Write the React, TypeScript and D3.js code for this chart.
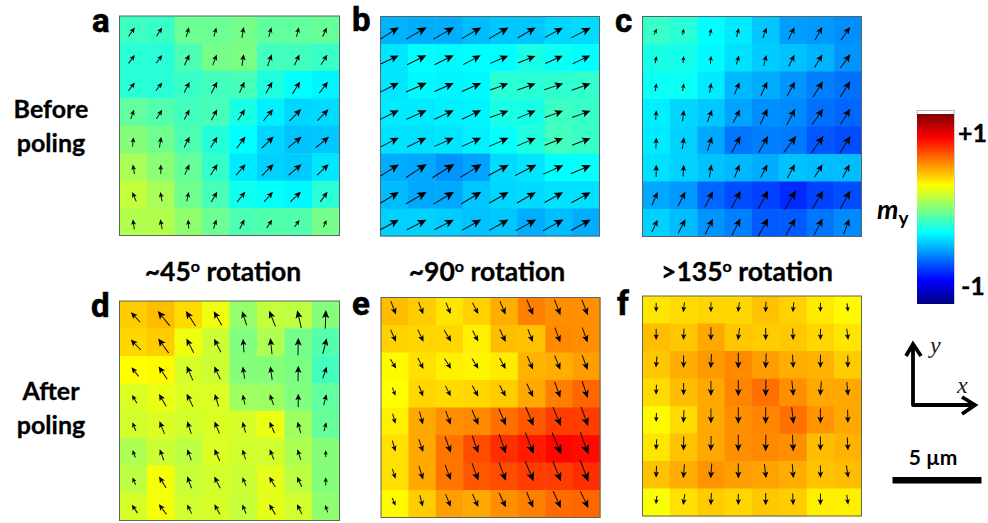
import React from 'react';
import * as d3 from 'd3';

// my value of each cell (drives the colour), rows top to bottom
const valuesA = [
  [-0.13, -0.14, -0.04, -0.04, -0.02, -0.06, -0.06, -0.05],
  [-0.17, -0.17, -0.1, -0.02, -0.01, -0.12, -0.12, -0.14],
  [-0.17, -0.17, -0.14, -0.12, -0.11, -0.19, -0.25, -0.27],
  [-0.06, -0.09, -0.12, -0.11, -0.2, -0.28, -0.33, -0.32],
  [0.01, -0.03, -0.1, -0.18, -0.25, -0.33, -0.37, -0.36],
  [0.08, 0.02, -0.05, -0.15, -0.29, -0.34, -0.35, -0.3],
  [0.13, 0.08, -0.03, -0.11, -0.22, -0.24, -0.26, -0.17],
  [0.1, 0.1, 0.03, -0.04, -0.1, -0.09, -0.09, -0.02],
];
const valuesB = [
  [-0.4, -0.41, -0.41, -0.38, -0.36, -0.36, -0.33, -0.32],
  [-0.3, -0.25, -0.26, -0.25, -0.25, -0.2, -0.23, -0.25],
  [-0.3, -0.26, -0.27, -0.26, -0.17, -0.17, -0.16, -0.15],
  [-0.29, -0.29, -0.28, -0.27, -0.2, -0.2, -0.13, -0.14],
  [-0.31, -0.31, -0.3, -0.28, -0.24, -0.19, -0.12, -0.14],
  [-0.41, -0.42, -0.46, -0.43, -0.32, -0.3, -0.25, -0.24],
  [-0.38, -0.42, -0.42, -0.36, -0.33, -0.32, -0.31, -0.31],
  [-0.34, -0.34, -0.35, -0.37, -0.36, -0.41, -0.38, -0.41],
];
const valuesC = [
  [-0.14, -0.17, -0.25, -0.29, -0.36, -0.44, -0.45, -0.47],
  [-0.2, -0.21, -0.26, -0.31, -0.35, -0.37, -0.4, -0.46],
  [-0.23, -0.23, -0.29, -0.39, -0.41, -0.46, -0.5, -0.53],
  [-0.28, -0.33, -0.36, -0.43, -0.47, -0.48, -0.53, -0.55],
  [-0.29, -0.34, -0.42, -0.52, -0.5, -0.51, -0.58, -0.6],
  [-0.31, -0.34, -0.37, -0.39, -0.41, -0.37, -0.38, -0.38],
  [-0.42, -0.45, -0.55, -0.6, -0.62, -0.67, -0.62, -0.6],
  [-0.34, -0.38, -0.46, -0.5, -0.57, -0.57, -0.52, -0.48],
];
const valuesD = [
  [0.35, 0.38, 0.32, 0.22, 0.04, 0.13, 0.12, 0.01],
  [0.33, 0.35, 0.22, 0.15, 0, 0.09, -0.02, -0.09],
  [0.25, 0.26, 0.17, 0.15, 0.01, 0.01, -0.01, -0.12],
  [0.18, 0.21, 0.18, 0.18, 0.06, 0.06, 0, -0.06],
  [0.16, 0.18, 0.16, 0.18, 0.17, 0.21, 0.06, -0.05],
  [0.09, 0.15, 0.12, 0.18, 0.16, 0.16, 0.09, 0.01],
  [0.12, 0.23, 0.14, 0.16, 0.15, 0.2, 0.12, 0.01],
  [0.17, 0.23, 0.16, 0.17, 0.14, 0.2, 0.16, 0.03],
];
const valuesE = [
  [0.38, 0.35, 0.3, 0.34, 0.41, 0.5, 0.47, 0.47],
  [0.34, 0.33, 0.33, 0.28, 0.38, 0.37, 0.48, 0.47],
  [0.26, 0.31, 0.28, 0.27, 0.29, 0.4, 0.41, 0.44],
  [0.25, 0.33, 0.32, 0.33, 0.35, 0.42, 0.5, 0.55],
  [0.28, 0.42, 0.47, 0.48, 0.53, 0.58, 0.63, 0.63],
  [0.31, 0.42, 0.52, 0.6, 0.66, 0.7, 0.74, 0.73],
  [0.31, 0.42, 0.52, 0.58, 0.6, 0.63, 0.63, 0.66],
  [0.26, 0.35, 0.44, 0.42, 0.47, 0.5, 0.54, 0.55],
];
const valuesF = [
  [0.3, 0.32, 0.33, 0.33, 0.37, 0.34, 0.29, 0.26],
  [0.38, 0.36, 0.42, 0.36, 0.35, 0.36, 0.33, 0.3],
  [0.36, 0.41, 0.45, 0.48, 0.44, 0.41, 0.4, 0.35],
  [0.32, 0.38, 0.42, 0.49, 0.53, 0.47, 0.42, 0.42],
  [0.26, 0.32, 0.42, 0.47, 0.49, 0.53, 0.46, 0.42],
  [0.3, 0.37, 0.42, 0.47, 0.48, 0.47, 0.38, 0.4],
  [0.37, 0.41, 0.46, 0.44, 0.43, 0.41, 0.37, 0.38],
  [0.24, 0.31, 0.35, 0.33, 0.36, 0.35, 0.28, 0.28],
];

// arrow direction, degrees clockwise from +y
const anglesA = [
  [35, 33, 16, 15, 9, 15, 14, 24],
  [37, 37, 25, 20, 8, 20, 25, 32],
  [38, 38, 27, 27, 24, 29, 32, 37],
  [20, 32, 28, 29, 33, 40, 44, 44],
  [6, 9, 27, 32, 37, 46, 51, 51],
  [-10, 0, 24, 32, 41, 45, 49, 46],
  [-23, -10, 12, 31, 39, 42, 47, 36],
  [-8, -11, -4, 18, 26, 33, 35, 23],
];
const anglesB = [
  [57, 60, 60, 60, 60, 60, 62, 62],
  [65, 64, 64, 62, 67, 68, 66, 65],
  [63, 66, 66, 66, 70, 70, 72, 70],
  [64, 66, 65, 65, 70, 67, 70, 70],
  [63, 64, 66, 66, 66, 67, 69, 69],
  [58, 57, 58, 58, 62, 63, 66, 67],
  [59, 60, 59, 59, 60, 60, 61, 61],
  [62, 63, 63, 61, 61, 61, 61, 61],
];
const anglesC = [
  [27, 12, 12, 15, 20, 27, 29, 35],
  [10, 5, 5, 16, 14, 27, 31, 36],
  [10, 10, 10, 23, 25, 29, 32, 33],
  [4, 7, 21, 27, 25, 27, 35, 32],
  [2, 8, 18, 28, 30, 37, 36, 32],
  [0, 3, 9, 21, 27, 29, 32, 27],
  [23, 27, 27, 28, 29, 30, 30, 29],
  [25, 27, 26, 27, 29, 30, 27, 20],
];
const anglesD = [
  [-43, -39, -33, -30, -18, -22, -13, 2],
  [-44, -36, -27, -27, -4, -6, 1, 14],
  [-38, -34, -23, -25, -9, -8, 1, 19],
  [-31, -30, -26, -17, -13, -20, 0, 14],
  [-22, -22, -18, -22, -16, -24, -16, 15],
  [-20, -20, -20, -24, -17, -22, -18, 0],
  [-24, -32, -20, -27, -23, -31, -25, 0],
  [-34, -37, -26, -29, -22, -31, -27, -20],
];
const anglesE = [
  [159, 159, 158, 153, 157, 158, 159, 159],
  [156, 155, 149, 153, 155, 159, 160, 160],
  [149, 153, 147, 148, 151, 157, 158, 159],
  [160, 159, 153, 151, 152, 155, 160, 162],
  [165, 165, 160, 157, 157, 158, 157, 160],
  [164, 161, 160, 161, 161, 159, 157, 160],
  [163, 163, 159, 160, 160, 157, 158, 159],
  [157, 165, 158, 156, 155, 157, 155, 155],
];
const anglesF = [
  [180, 187, 180, 188, 182, 186, 180, 173],
  [180, 183, 180, 188, 180, 177, 180, 173],
  [185, 180, 183, 180, 183, 177, 180, 180],
  [182, 180, 180, 180, 181, 174, 185, 174],
  [182, 182, 180, 180, 180, 174, 180, 179],
  [184, 181, 181, 180, 181, 177, 180, 177],
  [182, 185, 184, 180, 173, 176, 180, 171],
  [187, 189, 183, 180, 180, 177, 180, 172],
];

// arrow magnitude, percent of one cell
const lengthsA = [
  [39, 38, 36, 33, 40, 36, 36, 36],
  [38, 37, 43, 41, 43, 46, 43, 43],
  [38, 38, 44, 48, 44, 48, 53, 53],
  [35, 39, 41, 45, 47, 55, 60, 58],
  [34, 40, 44, 46, 53, 61, 62, 62],
  [35, 34, 41, 48, 53, 60, 61, 58],
  [37, 35, 35, 43, 47, 49, 53, 45],
  [37, 37, 33, 35, 39, 36, 31, 28],
];
const lengthsB = [
  [80, 87, 87, 82, 82, 76, 74, 80],
  [73, 78, 78, 72, 71, 69, 70, 72],
  [76, 83, 77, 77, 70, 71, 73, 73],
  [76, 80, 78, 78, 72, 73, 71, 72],
  [74, 78, 77, 77, 77, 74, 72, 72],
  [80, 90, 95, 92, 84, 88, 80, 80],
  [79, 87, 88, 87, 82, 79, 77, 80],
  [77, 80, 80, 81, 81, 86, 86, 83],
];
const lengthsC = [
  [24, 23, 28, 33, 41, 50, 55, 58],
  [27, 26, 29, 34, 41, 48, 56, 62],
  [29, 29, 37, 48, 56, 58, 68, 68],
  [36, 42, 48, 54, 64, 66, 71, 68],
  [40, 43, 54, 69, 70, 76, 78, 74],
  [45, 43, 47, 52, 54, 58, 55, 54],
  [53, 59, 65, 72, 76, 81, 78, 76],
  [50, 59, 64, 68, 76, 70, 69, 60],
];
const lengthsD = [
  [50, 70, 65, 59, 54, 61, 65, 67],
  [53, 65, 58, 55, 49, 59, 63, 59],
  [42, 56, 57, 52, 45, 50, 57, 45],
  [35, 52, 52, 47, 36, 42, 49, 41],
  [33, 49, 48, 48, 41, 45, 43, 33],
  [29, 43, 43, 48, 38, 40, 40, 25],
  [29, 48, 46, 48, 34, 43, 40, 30],
  [37, 46, 37, 41, 36, 43, 40, 29],
];
const lengthsE = [
  [52, 48, 45, 46, 53, 61, 61, 61],
  [48, 49, 50, 45, 52, 50, 58, 58],
  [40, 45, 45, 44, 46, 53, 55, 58],
  [32, 42, 43, 45, 47, 54, 61, 64],
  [38, 48, 54, 60, 66, 75, 75, 74],
  [41, 49, 62, 67, 75, 84, 86, 87],
  [38, 51, 59, 68, 71, 79, 79, 85],
  [31, 43, 49, 52, 58, 62, 67, 68],
];
const lengthsF = [
  [34, 36, 37, 37, 39, 37, 34, 31],
  [41, 42, 49, 45, 45, 43, 41, 42],
  [40, 46, 52, 59, 55, 49, 49, 45],
  [37, 45, 55, 59, 61, 56, 53, 50],
  [33, 46, 55, 61, 61, 61, 55, 49],
  [39, 52, 55, 61, 61, 61, 52, 48],
  [43, 51, 55, 55, 53, 53, 46, 46],
  [31, 40, 45, 41, 45, 43, 43, 37],
];

const panelLetters = ['a', 'b', 'c', 'd', 'e', 'f'];
const rotationLabels = ['~45', '~90', '>135'];
const rowLabels = [['Before', 'poling'], ['After', 'poling']];
const cellIndex = d3.range(8);

// jet colormap stops, -1 to +1
const jetDomain = [-1, -0.75, -0.25, 0.25, 0.75, 1];
const jetColors = ['#00007f', '#0000ff', '#00ffff', '#ffff00', '#ff0000', '#7f0000'];
const jetMid = d3.scaleLinear<string>().domain(jetDomain).range(jetColors).interpolate(d3.interpolateRgb);

const WIDTH = 988;
const HEIGHT = 523;
const FONT = 'Lato, sans-serif';
const LETTER_FONT = 'Roboto, sans-serif';

const panels = [
  { letter: 0, x: 119.5, y: 16, w: 220, h: 219.5, letterX: 92, letterY: 32, values: valuesA, angles: anglesA, lengths: lengthsA },
  { letter: 1, x: 380.5, y: 16.5, w: 219, h: 219.5, letterX: 352, letterY: 31, values: valuesB, angles: anglesB, lengths: lengthsB },
  { letter: 2, x: 642.5, y: 16.5, w: 219, h: 220, letterX: 615, letterY: 32, values: valuesC, angles: anglesC, lengths: lengthsC },
  { letter: 3, x: 119.5, y: 301, w: 220, h: 219.5, letterX: 91, letterY: 317, values: valuesD, angles: anglesD, lengths: lengthsD },
  { letter: 4, x: 381, y: 297.5, w: 219, h: 220, letterX: 352, letterY: 315, values: valuesE, angles: anglesE, lengths: lengthsE },
  { letter: 5, x: 642.5, y: 296, w: 219, h: 220, letterX: 617, letterY: 315, values: valuesF, angles: anglesF, lengths: lengthsF },
];

function Arrow({ cx, cy, angle, length }: { cx: number; cy: number; angle: number; length: number }) {
  // quiver pivot sits three quarters of the way along the arrow
  const head = 2.5 + 0.3 * length;
  const hw = head * 0.45;
  const tail = length * 0.75;
  const tip = length * 0.25;
  const d = `M0,${-tip} L${hw},${-tip + head} L0,${-tip + head * 0.76} L${-hw},${-tip + head} Z`;
  return (
    <g transform={`translate(${cx},${cy}) rotate(${angle})`}>
      <line x1={0} y1={tail} x2={0} y2={-tip + head * 0.7} stroke="#111" strokeWidth={1} />
      <path d={d} fill="#000" />
    </g>
  );
}

function Panel({ p }: { p: (typeof panels)[number] }) {
  const x = d3.scaleBand<number>().domain(cellIndex).range([p.x, p.x + p.w]);
  const y = d3.scaleBand<number>().domain(cellIndex).range([p.y, p.y + p.h]);
  const len = d3.scaleLinear().domain([0, 100]).range([0, x.bandwidth()]);
  return (
    <g>
      {cellIndex.map((r) =>
        cellIndex.map((c) => (
          <rect key={`${r}-${c}`} x={x(c)} y={y(r)} width={x.bandwidth() + 0.5} height={y.bandwidth() + 0.5}
            fill={jetMid(p.values[r][c])} />
        )),
      )}
      <rect x={p.x} y={p.y} width={p.w} height={p.h} fill="none" stroke="#5c6460" strokeWidth={1} />
      <g filter="url(#soft)">
        {cellIndex.map((r) =>
          cellIndex.map((c) => (
            <Arrow key={`${r}-${c}`} cx={x(c)! + x.bandwidth() / 2} cy={y(r)! + y.bandwidth() / 2}
              angle={p.angles[r][c]} length={len(p.lengths[r][c])} />
          )),
        )}
      </g>
      <text x={p.letterX} y={p.letterY} fontFamily={LETTER_FONT} fontWeight={700} fontSize={33}
        fill="#000" stroke="#000" strokeWidth={0.6}>
        {panelLetters[p.letter]}
      </text>
    </g>
  );
}

export default function App() {
  const barY = d3.scaleLinear().domain([-1, 1]).range([304, 114]);
  return (
    <svg width={WIDTH} height={HEIGHT} style={{ position: 'absolute', left: 0, top: 0, background: '#fff' }}>
      <defs>
        <linearGradient id="jet" x1="0" y1="1" x2="0" y2="0">
          {jetDomain.map((v, i) => (
            <stop key={v} offset={(v + 1) / 2} stopColor={jetColors[i]} />
          ))}
        </linearGradient>
        <filter id="soft" x="-5%" y="-5%" width="110%" height="110%">
          <feGaussianBlur stdDeviation={0.3} />
        </filter>
      </defs>

      {panels.map((p) => <Panel key={p.letter} p={p} />)}

      {rowLabels.map((lines, i) =>
        lines.map((t, j) => (
          <text key={t + i} x={51} y={(i === 0 ? 118 : 400) + j * 34} textAnchor="middle"
            fontFamily={FONT} fontWeight={700} fontSize={25} fill="#000" stroke="#000" strokeWidth={0.3}>{t}</text>
        )),
      )}

      {rotationLabels.map((t, i) => (
        <text key={t} x={[223, 487, 747][i]} y={281} textAnchor="middle"
          fontFamily={FONT} fontWeight={700} fontSize={26.5} fill="#000" stroke="#000" strokeWidth={0.3}>
          {t}
          <tspan dy={-9} fontSize={16}>o</tspan>
          <tspan dy={9}> rotation</tspan>
        </text>
      ))}

      {/* colour bar */}
      <rect x={917} y={110.5} width={37} height={4} fill="#fff" stroke="#bbb" strokeWidth={1} />
      <rect x={917} y={barY(1)} width={37} height={barY(-1) - barY(1)} fill="url(#jet)" />
      <line x1={954.5} x2={954.5} y1={110} y2={304} stroke="#ccc" strokeWidth={1} />
      <text x={958} y={142} fontFamily={FONT} fontWeight={700} fontSize={25} fill="#000" stroke="#000" strokeWidth={0.3}>+1</text>
      <text x={961} y={295} fontFamily={FONT} fontWeight={700} fontSize={25} fill="#000" stroke="#000" strokeWidth={0.3}>-1</text>
      <text x={877} y={219} fontFamily={FONT} fontWeight={700} fontStyle="italic" fontSize={27} fill="#000">
        m<tspan dy={6} fontSize={19} fontStyle="normal">y</tspan>
      </text>

      {/* axes key */}
      <g fill="none" stroke="#000" strokeWidth={3.8} filter="url(#soft)">
        <path d="M913,345 V405 H974" strokeLinejoin="round" />
        <path d="M906,356 L913,344 L921,356" />
        <path d="M962,397 L975,405 L962,414" />
      </g>
      <text x={930} y={353} fontFamily="'Liberation Serif', serif" fontStyle="italic" fontSize={24} fill="#222">y</text>
      <text x={957} y={393} fontFamily="'Liberation Serif', serif" fontStyle="italic" fontSize={24} fill="#222">x</text>

      {/* scale bar */}
      <text x={933} y={465} textAnchor="middle" fontFamily={FONT} fontWeight={700} fontSize={21} fill="#000">5 µm</text>
      <rect x={892.5} y={477} width={89} height={6.5} fill="#000" />
    </svg>
  );
}
